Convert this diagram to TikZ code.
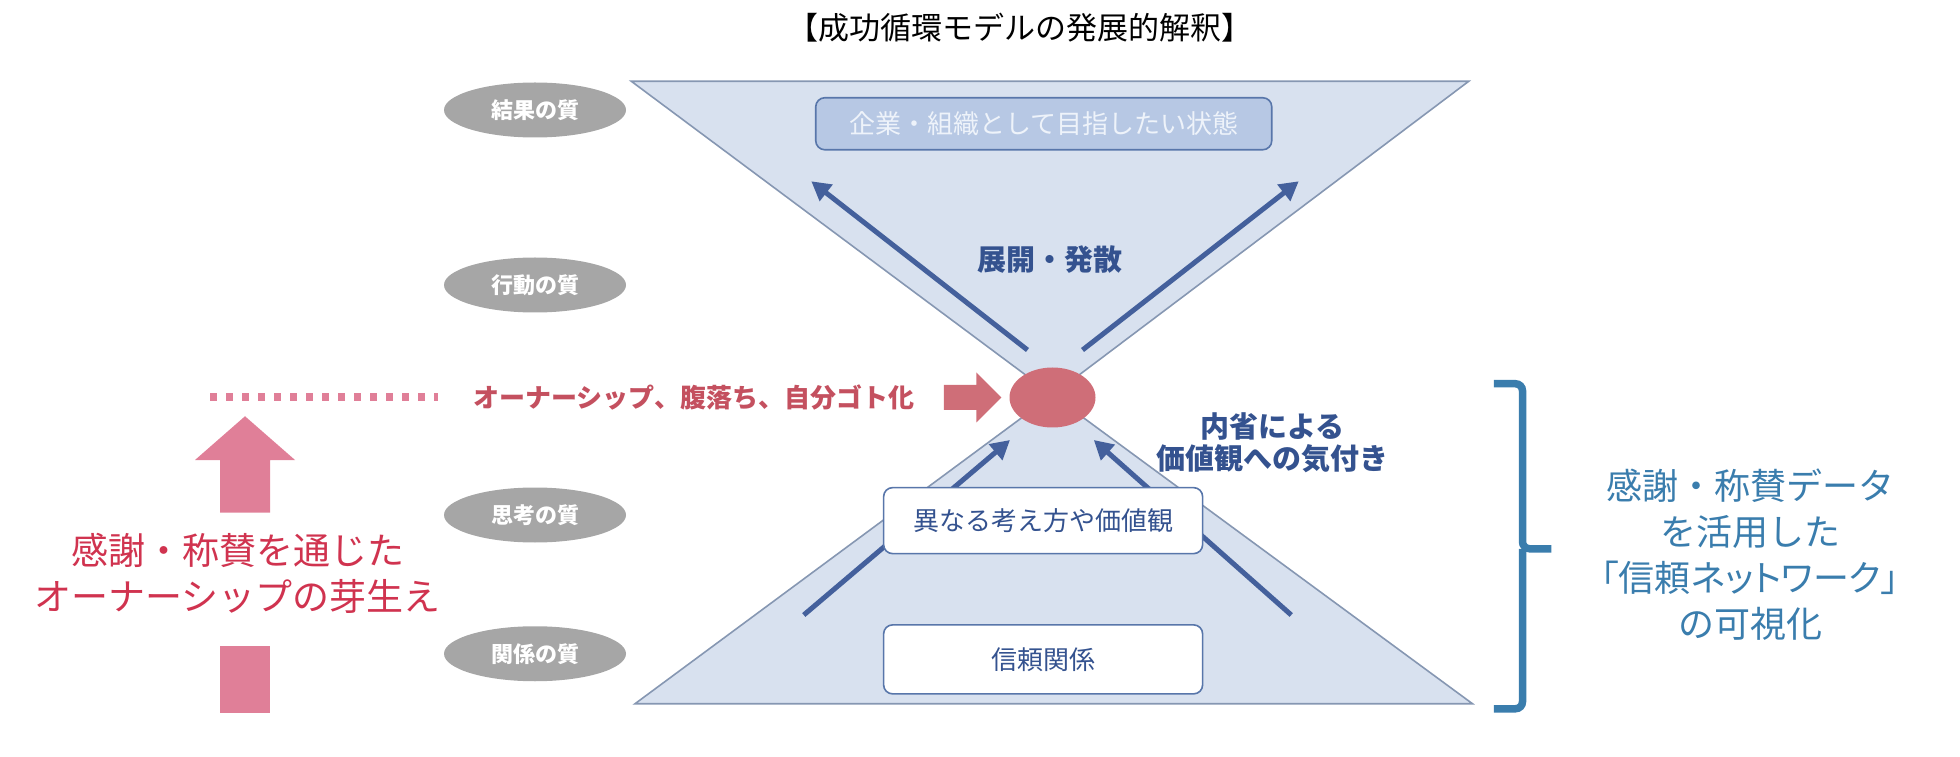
\documentclass[tikz,border=0pt]{standalone}
\usepackage{fontspec}
\setmainfont{Noto Sans CJK JP}
\newfontfamily\jpp[RawFeature=+palt]{Noto Sans CJK JP}
\usetikzlibrary{arrows.meta,shapes.geometric}
\definecolor{trifill}{HTML}{D8E1EF}
\definecolor{triline}{HTML}{8697B2}
\definecolor{arrowblue}{HTML}{44609C}
\definecolor{textblue}{HTML}{34528F}
\definecolor{boxline}{HTML}{5876AA}
\definecolor{topbox}{HTML}{B7C8E4}
\definecolor{topboxtext}{HTML}{EEF3FA}
\definecolor{grayell}{HTML}{A6A6A6}
\definecolor{redell}{HTML}{CF6E78}
\definecolor{redtext}{HTML}{C4505F}
\definecolor{pinkdot}{HTML}{E07F98}
\definecolor{pinktext}{HTML}{D0334F}
\definecolor{bracecol}{HTML}{3A7DAD}
\begin{document}
\begin{tikzpicture}[x=1.25pt,y=-1.25pt,
  lvl/.style={ellipse, fill=grayell, minimum width=182pt, minimum height=55pt, inner sep=0pt,
    text=white, font=\fontsize{22}{26}\selectfont\bfseries},
  tri/.style={fill=trifill, draw=triline, line width=1.6pt, line join=miter},
  barrow/.style={draw=arrowblue, line width=5pt, -{Triangle[length=19pt,width=20pt]}},
  wbox/.style={rectangle, rounded corners=9pt, fill=white, draw=boxline, line width=1.6pt,
    minimum width=319pt, inner sep=0pt, text=textblue, font=\fontsize{26}{30}\selectfont},
  bluebold/.style={text=textblue, font=\fontsize{29}{36}\selectfont\bfseries, align=center},
  pinkshape/.style={fill=pinkdot},
  brace/.style={draw=bracecol, line width=7.5pt, rounded corners=7pt}]
\useasboundingbox (0,0) rectangle (1568,605);

% title
\node (title) at (816,22) {\fontsize{31}{36}\selectfont 【成功循環モデルの発展的解釈】};

% level ellipses
\node[lvl] (q1) at (428,88) {結果の質};
\node[lvl] (q2) at (428,228) {行動の質};
\node[lvl] (q3) at (428,412) {思考の質};
\node[lvl] (q4) at (428,523) {関係の質};

% hourglass triangles
\draw[tri] (505,65) -- (1175,65) -- (842,316) -- cycle;
\draw[tri] (508,563) -- (1178,563) -- (842,316) -- cycle;

% arrows
\coordinate (ts1) at (822,280); \coordinate (te1) at (649,145);
\coordinate (ts2) at (866,280); \coordinate (te2) at (1039,145);
\coordinate (bs1) at (643,492); \coordinate (be1) at (808,352);
\coordinate (bs2) at (1033,492); \coordinate (be2) at (875,352);
\draw[barrow] (ts1) -- (te1);
\draw[barrow] (ts2) -- (te2);
\draw[barrow] (bs1) -- (be1);
\draw[barrow] (bs2) -- (be2);

% boxes
\node[rectangle, rounded corners=9pt, fill=topbox, draw=boxline, line width=1.6pt,
  minimum width=456pt, minimum height=52pt, text=topboxtext,
  font=\fontsize{26}{30}\selectfont] (goal) at (835,99) {企業・組織として目指したい状態};
\node[wbox, minimum height=66pt] (diff) at (834.5,416.5) {異なる考え方や価値観};
\node[wbox, minimum height=69pt] (trust) at (834.5,527.5) {信頼関係};

% labels in hourglass
\node[bluebold] (expand) at (840,208) {展開・発散};
\node[bluebold, font=\fontsize{29}{33}\selectfont\bfseries] (reflect) at (1018,354) {内省による\\[-1pt]価値観への気付き};

% red focus
\node[ellipse, fill=redell, minimum width=86pt, minimum height=60pt, inner sep=0pt] (focus) at (842,318) {};
\fill[redell] (755,308) -- (781,308) -- (781,298) -- (801,318) -- (781,338) -- (781,328) -- (755,328) -- cycle;
\node[text=redtext, font=\fontsize{26}{30}\selectfont\bfseries] (own) at (555,318) {オーナーシップ、腹落ち、自分ゴト化};

% pink dotted line and arrow
\coordinate (d1) at (168,318); \coordinate (d2) at (350,318);
\draw[pinkdot, line width=8pt, dash pattern=on 7pt off 9pt] (d1) -- (d2);
\fill[pinkshape] (196,333) -- (236,368) -- (216,368) -- (216,410) -- (176,410) -- (176,368) -- (156,368) -- cycle;
\fill[pinkshape] (176,517) rectangle (216,570);
\node[text=pinktext, font=\fontsize{37}{46}\selectfont, align=center] (sprout) at (190,459) {感謝・称賛を通じた\\オーナーシップの芽生え};

% brace
\draw[brace] (1195,307) -| (1218,439) -- (1241,439);
\draw[brace] (1195,567) -| (1218,439);
\node[text=bracecol, font=\fontsize{36}{46}\selectfont, align=center] (viz) at (1400,444)
  {感謝・称賛データ\\を活用した\\{\jpp 「信頼ネットワーク」}\\の可視化};
\end{tikzpicture}
\end{document}
